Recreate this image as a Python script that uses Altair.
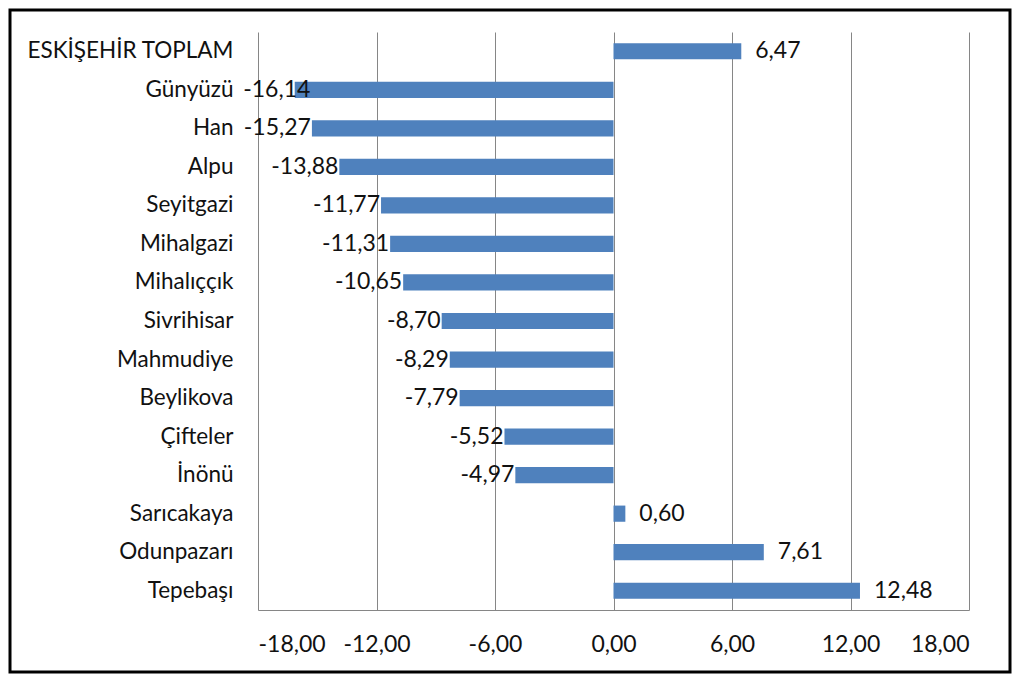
import altair as alt
import pandas as pd

categories = ["ESKİŞEHİR TOPLAM", "Günyüzü", "Han", "Alpu", "Seyitgazi", "Mihalgazi",
              "Mihalıççık", "Sivrihisar", "Mahmudiye", "Beylikova", "Çifteler", "İnönü",
              "Sarıcakaya", "Odunpazarı", "Tepebaşı"]
values = [6.47, -16.14, -15.27, -13.88, -11.77, -11.31, -10.65, -8.70, -8.29, -7.79,
          -5.52, -4.97, 0.60, 7.61, 12.48]
labels = ["6,47", "-16,14", "-15,27", "-13,88", "-11,77", "-11,31", "-10,65", "-8,70",
          "-8,29", "-7,79", "-5,52", "-4,97", "0,60", "7,61", "12,48"]
tick_values = [-18, -12, -6, 0, 6, 12, 18]

df = pd.DataFrame({"cat": categories, "val": values, "lab": labels})

FONT = "Lato"
FS_CAT = 22.5
FS_NUM = 23
W, H = 711, 578

x_scale = alt.Scale(domain=[-18, 18], nice=False, zero=False)
y_scale = alt.Scale(domain=categories, paddingInner=0.58, paddingOuter=0.29)

base = alt.Chart(df)

bars = base.mark_bar(color="#4F81BD").encode(
    x=alt.X("val:Q", scale=x_scale,
            axis=alt.Axis(values=tick_values, title=None, grid=True, gridColor="#868686",
                          gridWidth=1, domainColor="#868686", ticks=False,
                          labelExpr="replace(replace(format(datum.value, '.2f'), '.', ','), '\u2212', '-')",
                          labelFont=FONT, labelFontSize=FS_NUM, labelColor="#111111",
                          labelPadding=23)),
    y=alt.Y("cat:N", scale=y_scale, sort=categories,
            axis=alt.Axis(title=None, domain=False, ticks=False, labelFont=FONT,
                          labelFontSize=FS_CAT, labelColor="#111111", labelPadding=25,
                          labelLimit=400)),
)

pos_text = base.transform_filter("datum.val >= 0").mark_text(
    align="left", baseline="middle", dx=14, font=FONT, fontSize=FS_NUM, color="#111111"
).encode(x=alt.X("val:Q", scale=x_scale), y=alt.Y("cat:N", scale=y_scale, sort=categories),
         text="lab:N")

neg_text = base.transform_filter("datum.val < 0").transform_calculate(
    lx="max(datum.val, -15.3)"
).mark_text(
    align="right", baseline="middle", dx=-1, font=FONT, fontSize=FS_NUM, color="#111111"
).encode(x=alt.X("lx:Q", scale=x_scale), y=alt.Y("cat:N", scale=y_scale, sort=categories),
         text="lab:N")

frame = alt.Chart(pd.DataFrame({"a": [0]})).mark_rect(
    fill=None, stroke="#000000", strokeWidth=3
).encode(x=alt.value(-248), x2=alt.value(W + 41), y=alt.value(-22), y2=alt.value(H + 62))

chart = alt.layer(bars, pos_text, neg_text, frame).properties(
    width=W, height=H,
    autosize=alt.AutoSizeParams(type="none"),
    padding={"left": 250, "top": 24, "right": 43, "bottom": 65},
    background="white",
).configure_view(stroke=None)

chart.save("out.html", embed_options={"renderer": "svg", "actions": False})
